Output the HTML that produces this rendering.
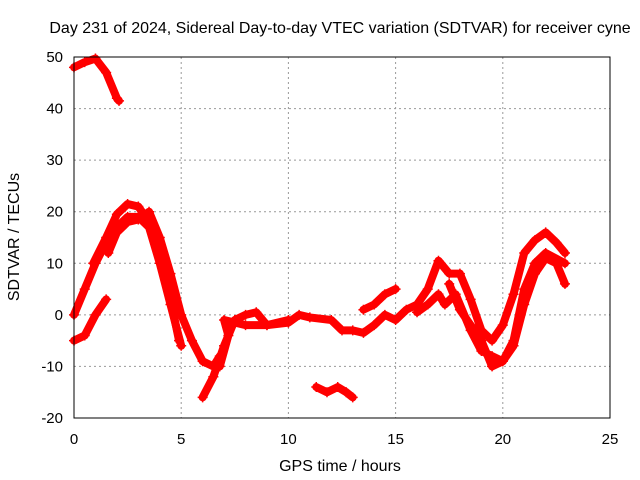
<!DOCTYPE html>
<html><head><meta charset="utf-8"><style>
body{margin:0;background:#fff}
svg{display:block;font-family:"Liberation Sans",sans-serif}
</style></head><body>
<svg id="c" width="640" height="480">
<rect width="640" height="480" fill="#fff"/>
<text x="340" y="33" font-size="16" text-anchor="middle">Day 231 of 2024, Sidereal Day-to-day VTEC variation (SDTVAR) for receiver cyne</text>
<text x="340" y="471" font-size="16" text-anchor="middle">GPS time / hours</text>
<text transform="translate(19,237) rotate(-90)" font-size="16" text-anchor="middle">SDTVAR / TECUs</text>
<g id="grid"></g><g id="marks"></g>
<rect x="74" y="57" width="536" height="361" fill="none" stroke="#000"/>
</svg>
<script>
const xTicks=[0,5,10,15,20,25];
const yTicks=[-20,-10,0,10,20,30,40,50];
const track1=[[0,48],[0.5,49],[1,49.7],[1.5,47],[2,42],[2.1,41.5]];
const track2=[[0,0],[0.5,5],[1,10],[1.5,14],[2,17],[2.5,19],[3,19],[3.5,17],[4,10],[4.5,2],[5,-6]];
const track3=[[0.9,10],[1.5,15],[2,19.5],[2.5,21.5],[3,21],[3.5,18],[4,11],[4.5,3],[4.9,-5]];
const track4=[[1.6,12],[2,16],[2.5,18],[3,18.5],[3.5,20],[4,15],[4.5,8],[5,0],[5.5,-5],[6,-9],[6.5,-10],[6.8,-8]];
const track5=[[0,-5],[0.5,-4],[1,0],[1.5,3]];
const track6=[[6,-16],[6.5,-12],[7,-6],[7.5,-1],[8,0],[8.5,0.5],[9,-2],[10,-1.5],[10.5,0],[11,-0.5],[12,-1],[12.5,-3],[13,-3],[13.5,-3.5],[14,-2],[14.5,0],[15,-1],[15.5,1],[16,2],[16.5,5],[17,10.5],[17.5,8],[18,8],[18.5,3],[19,-3],[19.5,-5],[20,-2],[20.5,4],[21,12],[21.5,14.5],[22,16],[22.5,14],[22.9,12]];
const track7=[[6.8,-10],[7.2,-4],[7,-1],[8,-2],[9,-2],[10,-1]];
const track8=[[13.5,1],[14,2],[14.5,4],[15,5]];
const track9=[[16,0.5],[16.5,2],[17,4],[17.3,2],[17.8,4],[18.5,-3],[19,-7],[19.5,-8],[20,-9],[20.5,-6],[21,2],[21.5,8],[22,11],[22.5,10],[22.9,6]];
const track10=[[17.5,6],[18,1],[18.5,-2],[19,-5],[19.5,-10],[20,-9],[20.5,-5],[21,5],[21.5,10],[22,12],[22.9,10]];
const track11=[[11.3,-14],[11.8,-15],[12.3,-14],[12.7,-15],[13,-16]];
const tracks=[track1,track2,track3,track4,track5,track6,track7,track8,track9,track10,track11];
const NS='http://www.w3.org/2000/svg';
const X=t=>74+t*536/25, Y=v=>418-(v+20)*361/70;
const g=document.getElementById('grid'), m=document.getElementById('marks');
function el(n,a,p){const e=document.createElementNS(NS,n);for(const k in a)e.setAttribute(k,a[k]);p.appendChild(e);return e;}
xTicks.forEach(t=>{
 if(t>0&&t<25){const l=el('line',{x1:X(t),x2:X(t),y1:57,y2:418,stroke:'#999','stroke-dasharray':'2,3'},g);
 
 }
 const tx=el('text',{x:X(t),y:444,'font-size':15,'text-anchor':'middle'},g);tx.textContent=t;
 
 
});
yTicks.forEach(v=>{
 if(v>-20&&v<50){const l=el('line',{x1:74,x2:610,y1:Y(v),y2:Y(v),stroke:'#999','stroke-dasharray':'2,3'},g);
 
 }
 const tx=el('text',{x:63,y:Y(v)+5,'font-size':15,'text-anchor':'end'},g);tx.textContent=v;
 
 
});
tracks.forEach(tr=>{
 const p=el('polyline',{points:tr.map(d=>X(d[0])+','+Y(d[1])).join(' '),fill:'none',stroke:'#f00','stroke-width':8,'stroke-linejoin':'round','stroke-linecap':'round'},m);
 
 
 tr.forEach(d=>{const x=X(d[0]),y=Y(d[1]);
  const q=el('path',{d:`M${x-5},${y}h10M${x},${y-5}v10`,stroke:'#f00','stroke-width':1.5},m);
  
  });
});
</script>
</body></html>
